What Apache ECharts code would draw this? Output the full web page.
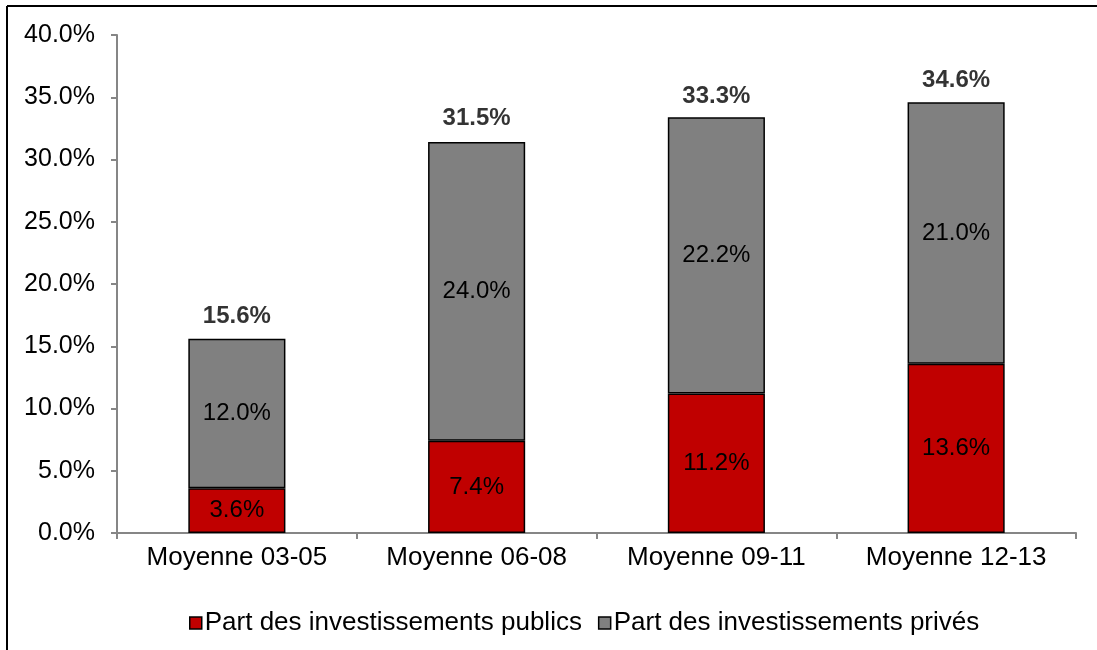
<!DOCTYPE html>
<html><head><meta charset="utf-8">
<script src="https://cdn.jsdelivr.net/npm/echarts@6/dist/echarts.min.js"></script>
<style>html,body{margin:0;padding:0;background:#fff}#c{width:1097px;height:650px}</style>
</head><body><div id="c"></div>
<script>
const categories = ['Moyenne 03-05', 'Moyenne 06-08', 'Moyenne 09-11', 'Moyenne 12-13'];
const publicShare = [3.6, 7.4, 11.2, 13.6];
const privateShare = [12.0, 24.0, 22.2, 21.0];
const totals = [15.6, 31.5, 33.3, 34.6];
const seriesNames = ['Part des investissements publics', 'Part des investissements privés'];
const yTicks = [0, 5, 10, 15, 20, 25, 30, 35, 40];

const chart = echarts.init(document.getElementById('c'));
const F = 'Liberation Sans, Arial, sans-serif';
chart.setOption({
  animation: false,
  grid: {left: 117, right: 21, top: 35, bottom: 117},
  legend: {
    data: seriesNames, left: 184, top: 605, icon: 'rect', itemWidth: 12, itemHeight: 12, itemGap: 16,
    textStyle: {fontFamily: F, fontSize: 26, color: '#000', padding: [0,0,0,-2]},
    itemStyle: {borderColor: '#000', borderWidth: 1.5}
  },
  xAxis: {
    type: 'category', data: categories,
    axisLine: {lineStyle: {color: '#868686', width: 2}},
    axisTick: {show: true, length: 6, inside: false, lineStyle: {color: '#868686', width: 2}},
    axisLabel: {fontFamily: F, fontSize: 26, color: '#000', margin: 12}
  },
  yAxis: {
    type: 'value', min: yTicks[0], max: yTicks[yTicks.length-1], interval: 5,
    axisLine: {show: true, lineStyle: {color: '#868686', width: 2}},
    axisTick: {show: true, length: 6, lineStyle: {color: '#868686', width: 2}},
    splitLine: {show: false},
    axisLabel: {fontFamily: F, fontSize: 25, color: '#000', margin: 22, formatter: v => v.toFixed(1) + '%'}
  },
  series: [
    {name: seriesNames[0], type: 'bar', stack: 's', data: publicShare, barWidth: '40.5%',
     itemStyle: {color: '#C00000', borderColor: '#000', borderWidth: 1.5},
     label: {show: true, position: 'inside', fontFamily: F, fontSize: 24, color: '#000', formatter: p => p.value.toFixed(1) + '%'}},
    {name: seriesNames[1], type: 'bar', stack: 's', data: privateShare, barWidth: '40.5%',
     itemStyle: {color: '#808080', borderColor: '#000', borderWidth: 1.5},
     label: {show: true, position: 'inside', fontFamily: F, fontSize: 24, color: '#000', formatter: p => p.value.toFixed(1) + '%'}},
    {name: 'total', type: 'scatter', data: totals, symbolSize: 0, silent: true,
     label: {show: true, position: 'top', distance: 10, fontFamily: F, fontWeight: 'bold', fontSize: 24, color: '#000', formatter: p => p.value.toFixed(1) + '%'}}
  ],
  graphic: [
    {type: 'line', shape: {x1: 7, y1: 6, x2: 1097, y2: 6}, style: {stroke: '#000', lineWidth: 2}},
    {type: 'line', shape: {x1: 7, y1: 6, x2: 7, y2: 650}, style: {stroke: '#000', lineWidth: 2}}
  ]
});
</script></body></html>
